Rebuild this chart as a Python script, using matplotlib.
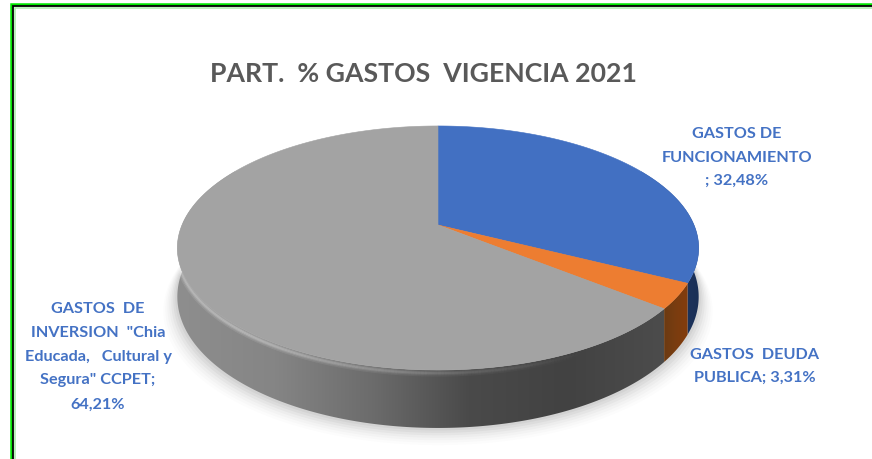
import numpy as np
import matplotlib
matplotlib.use("Agg")
import matplotlib.pyplot as plt
from matplotlib.collections import LineCollection
from matplotlib.colors import LinearSegmentedColormap
from matplotlib.patches import Polygon

plt.rcParams["font.family"] = ["Lato", "DejaVu Sans"]

# data
categories = ["GASTOS DE\nFUNCIONAMIENTO\n; 32,48%",
              "GASTOS  DEUDA\nPUBLICA; 3,31%",
              "GASTOS  DE\nINVERSION  \"Chia\nEducada,   Cultural y\nSegura\" CCPET;\n64,21%"]
shares = [32.48, 3.31, 64.21]
title = "PART.  % GASTOS  VIGENCIA 2021"

top_colors = ["#4270c2", "#ed7d31", "#a3a3a3"]
side_colors = [["#2a4a85", "#1f3864", "#1a2f55"],
               ["#6b3a12", "#7a3d10", "#843c0c"],
               ["#8e8e8e", "#858585", "#6c6c6c", "#4a4a4a", "#424242", "#4c4c4c"]]

# pie projection, pixels
CX, CY = 438, 225
R, B, K = 256, 117.7, 0.1885
DEPTH = 47


def rim(theta, drop=0.0):
    # theta clockwise from the top, perspective circle
    v = -np.cos(theta)
    d = 1 - K * v
    return CX + R * np.sin(theta) / d, CY + B * v / d + drop / d


fig = plt.figure(figsize=(8.72, 4.59), dpi=100)
ax = fig.add_axes([0, 0, 1, 1])
ax.set_xlim(0, 872)
ax.set_ylim(459, 0)
ax.axis("off")

# soft shadow below the pie
for grow, alpha in zip(np.arange(14, 0, -2), [0.012, 0.016, 0.02, 0.025, 0.03, 0.035, 0.04]):
    t = np.linspace(np.pi * 0.4, np.pi * 1.6, 200)
    x, y = rim(t, DEPTH + grow)
    x = CX + (x - CX) * (1 + grow / 260)
    ax.add_patch(Polygon(np.c_[x, y], fc="black", ec="none", alpha=alpha, zorder=1))

edges = np.radians(np.cumsum([0] + shares) * 3.6)

# side wall, limited to the part facing the viewer
for i in range(3):
    a = max(edges[i], np.radians(60))
    b = min(edges[i + 1], np.radians(300))
    t = np.linspace(a, b, 200)
    x0, y0 = rim(t)
    x1, y1 = rim(t, DEPTH)
    poly = Polygon(np.r_[np.c_[x0, y0], np.c_[x1, y1][::-1]], fc="none", ec="none", zorder=2)
    ax.add_patch(poly)
    cmap = LinearSegmentedColormap.from_list("side", side_colors[i])
    left, right = min(x0.min(), x1.min()), max(x0.max(), x1.max())
    im = ax.imshow(np.linspace(0, 1, 256)[None, :], cmap=cmap, aspect="auto", zorder=2,
                   extent=[left, right, 459, 0])
    im.set_clip_path(poly)
ax.set_xlim(0, 872)
ax.set_ylim(459, 0)

# bevel highlight just under the rim, fading towards the right
t = np.linspace(np.radians(150), np.radians(272), 200)
x, y = rim(t, 2.5)
pts = np.c_[x, y]
segs = np.stack([pts[:-1], pts[1:]], axis=1)
fade = np.clip((t[:-1] - t[0]) / (np.radians(215) - t[0]), 0, 1)
for lw, alpha in [(5, 0.1), (3, 0.14), (1.5, 0.18)]:
    rgba = np.c_[np.ones((len(fade), 3)), alpha * fade]
    ax.add_collection(LineCollection(segs, colors=rgba, linewidths=lw, zorder=2.5, capstyle="butt"))

# top face
for i in range(3):
    t = np.linspace(edges[i], edges[i + 1], 200)
    x, y = rim(t)
    ax.add_patch(Polygon(np.r_[[[CX, CY]], np.c_[x, y]], fc=top_colors[i], ec=top_colors[i],
                         lw=0.4, zorder=3))

# frame
ax.plot([11, 11, 872], [459, 4, 4], color="#00e600", lw=1.8, zorder=6, solid_joinstyle="miter")
ax.plot([12.8, 12.8, 872], [459, 6.2, 6.2], color="black", lw=1.3, zorder=6, solid_joinstyle="miter")
ax.plot([14.5, 14.5, 872], [459, 7.8, 7.8], color="#a8eca8", lw=1.1, zorder=5, solid_joinstyle="miter")

ax.text(423.5, 74, title, ha="center", va="center", fontsize=19.2, fontweight="bold", color="#595959")

label_pos = [(737, 157.5), (754.5, 366.5), (98, 356.5)]
label_spacing = [1.85, 1.85, 1.9]
for text, (lx, ly), sp in zip(categories, label_pos, label_spacing):
    ax.text(lx, ly, text, ha="center", va="center", fontsize=11.7, fontweight="bold",
            color="#4472c4", linespacing=sp)

fig.savefig("out.png", dpi=100)
